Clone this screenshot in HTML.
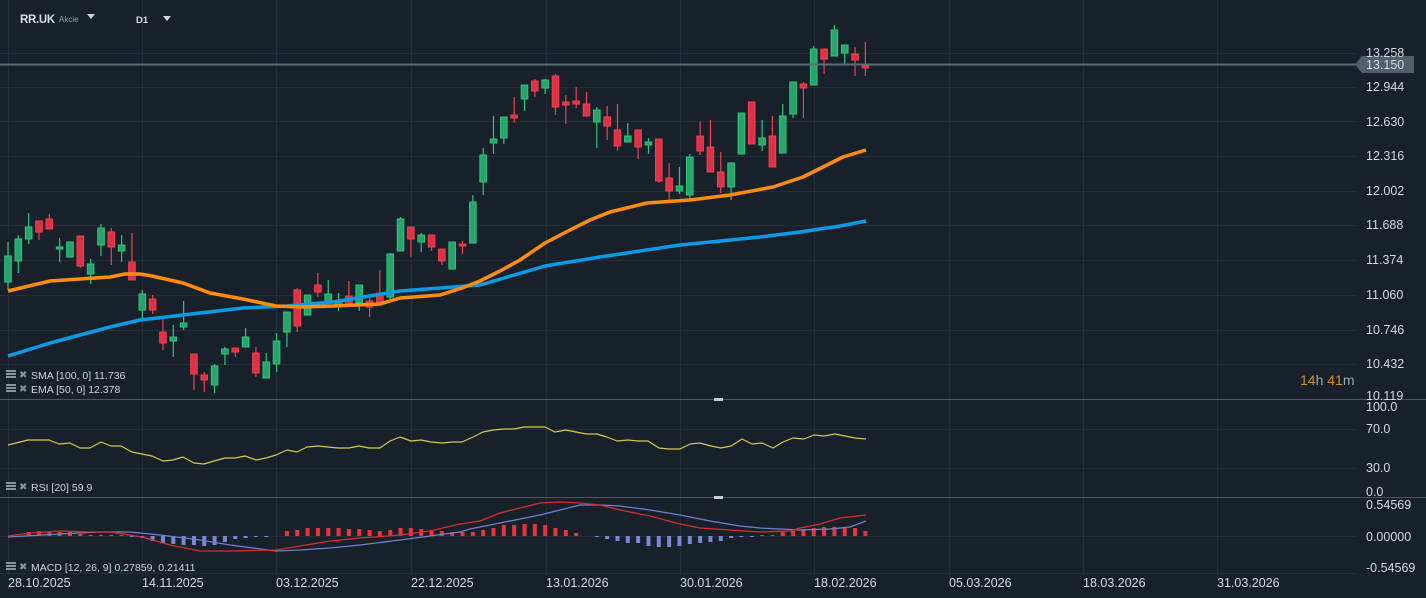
<!DOCTYPE html>
<html><head><meta charset="utf-8"><style>
html,body{margin:0;padding:0;background:#18212a;}
body{width:1426px;height:598px;overflow:hidden;font-family:"Liberation Sans",sans-serif;}
svg{display:block}
</style></head><body>
<svg id="s" width="1426" height="598" xmlns="http://www.w3.org/2000/svg" font-family="Liberation Sans, sans-serif">
<rect width="1426" height="598" fill="#18212a"/>
<g id="grid" stroke="#232e38" stroke-width="1"></g>
<g id="cand"></g>
<g id="lines" fill="none"></g>
<line x1="0" y1="399.5" x2="1426" y2="399.5" stroke="#4b5863"/>
<line x1="0" y1="497.5" x2="1426" y2="497.5" stroke="#4b5863"/>
<rect x="714" y="398" width="9" height="3" fill="#c8ccd0"/>
<rect x="714" y="496" width="9" height="3" fill="#c8ccd0"/>
<line x1="0" y1="64.5" x2="1356" y2="64.5" stroke="#5b6b77" stroke-width="2"/>
<polygon points="1355,64.5 1362,56 1414,56 1414,73 1362,73" fill="#4f5f6b"/>
<g fill="#d6dadd" font-size="12.5">
<text x="1366" y="57">13.258</text>
<text x="1366" y="69">13.150</text>
<text x="1366" y="91">12.944</text>
<text x="1366" y="126">12.630</text>
<text x="1366" y="160">12.316</text>
<text x="1366" y="195">12.002</text>
<text x="1366" y="229">11.688</text>
<text x="1366" y="264">11.374</text>
<text x="1366" y="299">11.060</text>
<text x="1366" y="334">10.746</text>
<text x="1366" y="368">10.432</text>
<text x="1366" y="400">10.119</text>
<text x="1366" y="411">100.0</text>
<text x="1366" y="433">70.0</text>
<text x="1366" y="472">30.0</text>
<text x="1366" y="496">0.0</text>
<text x="1366" y="509">0.54569</text>
<text x="1366" y="541">0.00000</text>
<text x="1366" y="572">-0.54569</text>
</g>
<text x="1300" y="385" font-size="14"><tspan fill="#e08a1a">14</tspan><tspan fill="#9aa2a8">h </tspan><tspan fill="#e08a1a">41</tspan><tspan fill="#9aa2a8">m</tspan></text>
<g fill="#d6dadd" font-size="12.5">
<text x="8" y="587">28.10.2025</text>
<text x="142" y="587">14.11.2025</text>
<text x="276" y="587">03.12.2025</text>
<text x="411" y="587">22.12.2025</text>
<text x="546" y="587">13.01.2026</text>
<text x="680" y="587">30.01.2026</text>
<text x="814" y="587">18.02.2026</text>
<text x="949" y="587">05.03.2026</text>
<text x="1083" y="587">18.03.2026</text>
<text x="1217" y="587">31.03.2026</text>
</g>
<g fill="#d0d4d8" font-size="10.5">
<text x="31" y="379">SMA [100,  0] 11.736</text>
<text x="31" y="393">EMA [50,  0] 12.378</text>
<text x="31" y="491">RSI [20]  59.9</text>
<text x="31" y="571">MACD [12,  26,  9] 0.27859,  0.21411</text>
</g>
<g fill="#8a9399">
<rect x="6" y="370" width="10" height="2"/><rect x="6" y="373" width="10" height="2"/><rect x="6" y="376" width="10" height="2"/>
<rect x="6" y="384" width="10" height="2"/><rect x="6" y="387" width="10" height="2"/><rect x="6" y="390" width="10" height="2"/>
<rect x="6" y="482" width="10" height="2"/><rect x="6" y="485" width="10" height="2"/><rect x="6" y="488" width="10" height="2"/>
<rect x="6" y="562" width="10" height="2"/><rect x="6" y="565" width="10" height="2"/><rect x="6" y="568" width="10" height="2"/>
<text x="19" y="378" font-size="10">✖</text><text x="19" y="392" font-size="10">✖</text>
<text x="19" y="490" font-size="10">✖</text><text x="19" y="570" font-size="10">✖</text>
</g>
<text x="20" y="23" fill="#d9dde0" font-size="11.5" font-weight="bold" letter-spacing="-0.3">RR.UK</text>
<text x="59" y="22" fill="#8fa3b0" font-size="8">Akcie</text>
<polygon points="87,14 95,14 91,19" fill="#d0d4d8"/>
<text x="136" y="23" fill="#d9dde0" font-size="9.5" font-weight="bold">D1</text>
<polygon points="163,16 171,16 167,21" fill="#d0d4d8"/>
</svg>
<script>
var NS="http://www.w3.org/2000/svg";
function el(p,t,a){var e=document.createElementNS(NS,t);for(var k in a)e.setAttribute(k,a[k]);p.appendChild(e);return e;}
var g=document.getElementById('grid');
[53,87,121,156,191,225,260,295,330,364,429,468,536,573].forEach(function(y){el(g,'line',{x1:0,y1:y+.5,x2:1356,y2:y+.5});});
[8,142,276,411,546,680,814,949,1083,1217].forEach(function(x){el(g,'line',{x1:x+.5,y1:0,x2:x+.5,y2:575});});
var C=[
['G',256,282,242,290],['G',239,261,235,273],['G',227,239,213,244],['R',221,232,221,240],['R',219,229,214,229],
['G',247,249,238,262],['G',242,257,242,257],['R',236,266,236,268],['G',264,274,259,284],['G',228,245,224,256],
['R',232,247,228,265],['G',245,251,235,262],['R',262,280,233,280],['G',294,310,290,318],['R',299,310,295,314],
['R',332,343,319,350],['G',337,341,325,357],['G',323,327,301,330],['R',354,374,354,390],['R',375,380,372,392],
['G',366,385,364,393],['G',349,354,347,365],['R',348,352,348,357],['G',337,347,328,347],['R',353,373,347,377],
['G',362,378,353,378],['G',341,364,333,372],['G',312,332,312,347],['R',290,326,288,332],['G',295,315,295,315],
['R',285,292,273,297],['G',294,302,280,302],['G',302,307,293,311],['R',296,303,281,303],['G',285,303,285,311],
['R',301,307,295,317],['R',293,302,270,302],['G',254,297,253,299],['G',219,251,217,251],['R',227,239,227,257],
['G',235,242,233,252],['R',235,247,235,251],['R',249,261,249,265],['G',242,269,242,269],['R',244,246,241,254],
['G',202,243,195,243],['G',155,182,148,195],['G',139,143,116,154],['G',117,138,117,144],['R',115,118,97,123],
['G',85,99,85,111],['R',81,91,79,97],['G',80,88,79,94],['R',76,107,74,115],['R',102,105,95,124],
['R',101,104,87,108],['R',104,116,92,116],['G',110,122,107,148],['R',117,126,106,140],['R',130,146,104,151],
['G',136,142,123,142],['R',130,147,130,159],['G',142,145,138,154],['R',139,181,139,183],['R',178,191,163,201],
['G',186,191,167,194],['G',157,195,154,199],['R',136,151,122,155],['R',147,172,120,172],['R',172,187,152,193],
['G',163,187,162,200],['G',113,154,113,154],['R',102,144,102,144],['G',138,145,120,151],['R',136,167,116,167],
['G',116,153,104,153],['G',82,114,82,118],['R',84,88,82,118],['G',49,85,46,85],['R',49,59,49,74],
['G',30,56,25,56],['G',45,53,45,64],['R',54,60,47,76],['R',66,67,42,76]];
var cg=document.getElementById('cand');
function X(i){return 8+i*10.33;}
C.forEach(function(c,i){var x=X(i),col=c[0]=='G'?'#26a46c':'#dc3245',st=c[0]=='G'?'#2fc47f':'#f23f52';
el(cg,'line',{x1:x,y1:c[3],x2:x,y2:c[4],stroke:st,'stroke-width':1.2});
var h=Math.max(c[2]-c[1],2);el(cg,'rect',{x:x-3.3,y:c[1],width:6.6,height:h,fill:col,stroke:st,'stroke-width':1});});
var H=[536,536,532,531,531,532,532,534,535,535,535,535,537,538,541,543,544,545,545,546,545,542,539,538,537,537,535.5,531,530,528,528,528,528,529,529,530,531,530,528,528,529,530,531,532,532,532,530,528,525,525,524,524,525,528,530,533,535.5,537,539,541,543,543,546,547,547,546,544,543,542,541,538,537,537,535,535,532,531,529,528,527,527,527,528,531];
H.forEach(function(y,i){var x=X(i);if(Math.abs(y-536)<0.6)return;
var pos=y<536;el(cg,'rect',{x:x-2,y:Math.min(y,536),width:4,height:Math.abs(y-536),fill:pos?'#e8343a':'#7b86d8'});});
var L=document.getElementById('lines');
function P(pts,col,w){el(L,'polyline',{points:pts.map(function(p){return p.join(',');}).join(' '),stroke:col,'stroke-width':w,'stroke-linejoin':'round'});}
P([[8,356],[50,343],[110,327],[140,320],[183,315],[243,308],[287,306],[333,302],[400,291],[480,285],[545,266],[600,257],[680,245],[720,241],[760,237],[800,232],[840,226],[866,221]],'#0a9be6',3.5);
P([[8,291],[50,281],[110,277],[125,274],[140,274],[152,276],[183,283],[210,293],[243,299],[276,306],[300,307],[333,306],[380,304],[400,298],[440,295],[462,288],[480,281],[500,271],[520,260],[545,243],[570,230],[590,220],[610,212],[647,203],[690,200],[730,195],[773,187],[803,177],[843,157],[866,150]],'#ff8c0a',3.5);
var R=[[8,445],[28,440],[49,440],[59,444],[70,443],[80,448],[90,448],[101,442],[111,446],[121,446],[132,452],[142,454],[152,456],[163,461],[173,460],[183,457],[194,463],[204,464],[214,461],[225,458],[235,458],[245,456],[256,460],[266,458],[276,455],[287,450],[297,452],[307,447],[318,446],[328,447],[338,448],[349,448],[359,446],[369,448],[380,448],[390,441],[400,437],[411,441],[421,440],[431,442],[442,443],[452,442],[462,442],[473,437],[483,432],[493,430],[504,429],[514,429],[524,427],[535,427],[545,427],[555,432],[566,430],[576,432],[586,434],[597,434],[607,437],[617,441],[628,440],[638,441],[648,441],[659,448],[669,449],[680,449],[690,444],[700,443],[711,446],[721,448],[731,446],[742,439],[752,444],[762,443],[773,448],[783,442],[793,438],[804,439],[814,435],[824,436],[835,434],[845,436],[855,438],[866,439]];
P(R,'#d8c84a',1.2);
P([[8,537],[60,534],[100,532],[130,532],[160,535],[200,540],[230,545],[276,551],[300,550],[330,548],[360,545],[400,540],[430,536],[460,532],[470,529],[500,523],[540,515],[560,510],[580,505],[600,505],[620,506],[650,510],[680,515],[710,521],[740,526],[760,528],[800,530],[830,529],[850,527],[866,521]],'#6f7fd0',1.3);
P([[8,536],[30,533],[60,531],[90,532],[110,532],[142,537],[170,545],[200,551],[230,551],[276,550],[300,546],[330,541],[360,538],[400,535],[430,531],[460,524],[480,521],[500,513],[520,508],[540,503],[560,502],[580,503],[600,505],[620,510],[650,516],[680,524],[700,528],[730,530],[760,532],[790,531],[800,528],[820,524],[840,518],[866,515]],'#d62d2d',1.3);
</script>
</body></html>
